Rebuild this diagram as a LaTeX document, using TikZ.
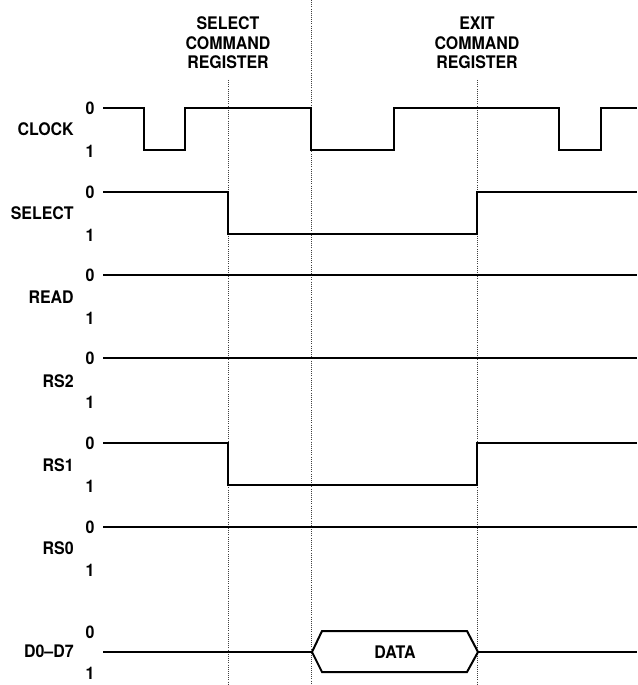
\documentclass[tikz,border=0pt]{standalone}
\usepackage{fontspec}
\setmainfont[FakeStretch=0.92]{TeX Gyre Heros}

\begin{document}
\begin{tikzpicture}[x=0.75pt,y=0.75pt,yscale=-1,xscale=1,
  wave/.style={line width=1.5pt, line join=miter},
  guide/.style={dash pattern={on 0.6pt off 1pt}, line width=0.5pt, black!75},
  sig/.style={anchor=east, inner sep=0.75pt, font=\fontsize{13}{15}\selectfont\bfseries},
  lvl/.style={inner sep=0.75pt, font=\fontsize{13}{15}\selectfont\bfseries},
  head/.style={inner sep=0.75pt, align=center, font=\fontsize{13}{14.6}\selectfont\bfseries}]
\useasboundingbox (0,0) rectangle (637,685);

%Dotted guide lines
\draw [guide] (228,80) -- (228,685) ;
\draw [guide] (311,0) -- (311,685) ;
\draw [guide] (477,80) -- (477,685) ;

% Text Node
\node [head] (selcmd) at (228,43) {SELECT\\COMMAND\\REGISTER};
% Text Node
\node [head] (exitcmd) at (477,43) {EXIT\\COMMAND\\REGISTER};

%CLOCK
\draw [wave] (103,108) -- (144,108) -- (144,150) -- (185,150) -- (185,108) -- (311,108) -- (311,150) -- (394,150) -- (394,108) -- (559,108) -- (559,150) -- (601,150) -- (601,108) -- (637,108) ;
\node [sig] (clk) at (75,129) {CLOCK};
\node [lvl] (clk0) at (90,108) {0};
\node [lvl] (clk1) at (90,151) {1};

%SELECT
\draw [wave] (103,192) -- (228,192) -- (228,234) -- (477,234) -- (477,192) -- (637,192) ;
\node [sig] (sel) at (75,213) {SELECT};
\node [lvl] (sel0) at (90,192) {0};
\node [lvl] (sel1) at (90,235) {1};

%READ
\draw [wave] (103,275) -- (637,275) ;
\node [sig] (rd) at (75,297) {READ};
\node [lvl] (rd0) at (90,275) {0};
\node [lvl] (rd1) at (90,318) {1};

%RS2
\draw [wave] (103,358) -- (637,358) ;
\node [sig] (rstwo) at (75,381) {RS2};
\node [lvl] (rstwo0) at (90,358) {0};
\node [lvl] (rstwo1) at (90,402) {1};

%RS1
\draw [wave] (103,443) -- (228,443) -- (228,485) -- (477,485) -- (477,443) -- (637,443) ;
\node [sig] (rsone) at (75,465) {RS1};
\node [lvl] (rsone0) at (90,443) {0};
\node [lvl] (rsone1) at (90,486) {1};

%RS0
\draw [wave] (103,527) -- (637,527) ;
\node [sig] (rszero) at (75,548) {RS0};
\node [lvl] (rszero0) at (90,527) {0};
\node [lvl] (rszero1) at (90,570) {1};

%D0-D7 with data bus
\draw [wave] (103,652) -- (312,652) ;
\draw [wave] (312,652) -- (322,631) -- (467,631) -- (478,652) -- (467,672) -- (322,672) -- cycle ;
\draw [wave] (478,652) -- (637,652) ;
\node [sig] (bus) at (75,651) {D0--D7};
\node [lvl] (bus0) at (90,632) {0};
\node [lvl] (bus1) at (90,673) {1};
\node [lvl] (data) at (395,652) {DATA};
\end{tikzpicture}
\end{document}
